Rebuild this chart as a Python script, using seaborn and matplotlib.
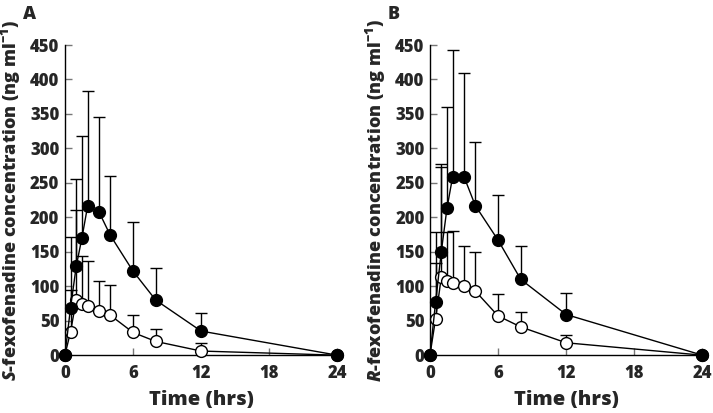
import numpy as np
import pandas as pd
import matplotlib
matplotlib.use('Agg')
import matplotlib.pyplot as plt
import seaborn as sns

time_hrs = [0, 0.5, 1, 1.5, 2, 3, 4, 6, 8, 12, 24]

# panel A, S-fexofenadine (mean and mean + SD)
s_filled = [0, 69, 129, 170, 216, 208, 174, 122, 80, 35, 0]
s_filled_top = [0, 172, 255, 318, 384, 346, 260, 193, 127, 61, 0]
s_open = [0, 34, 80, 74, 72, 64, 58, 33, 20, 6, 0]
s_open_top = [0, 95, 210, 144, 136, 108, 102, 58, 38, 17, 0]

# panel B, R-fexofenadine
r_filled = [0, 77, 150, 213, 259, 259, 217, 167, 110, 59, 0]
r_filled_top = [0, 178, 278, 360, 443, 409, 310, 233, 159, 90, 0]
r_open = [0, 53, 113, 108, 105, 101, 93, 57, 41, 18, 0]
r_open_top = [0, 134, 273, 178, 180, 158, 150, 89, 62, 30, 0]

x_ticks = [0, 6, 12, 18, 24]
y_ticks = list(range(0, 451, 50))

sns.set_style('ticks')
plt.rcParams['font.family'] = ['Open Sans', 'DejaVu Sans']
plt.rcParams['font.weight'] = 800
plt.rcParams['mathtext.fontset'] = 'custom'
plt.rcParams['mathtext.rm'] = 'Open Sans:weight=800'
plt.rcParams['mathtext.it'] = 'Open Sans:italic:weight=800'
plt.rcParams['mathtext.bf'] = 'Open Sans:weight=800'

fig = plt.figure(figsize=(7.13, 4.13), dpi=100)
ax_a = fig.add_axes([0.091, 0.140, 0.382, 0.751])
ax_b = fig.add_axes([0.603, 0.140, 0.382, 0.751])


def draw_panel(ax, filled, filled_top, opened, opened_top, ylabel, letter):
    # open circles first so the filled series sits on top at 0 h and 24 h
    for mean, top, face in [(opened, opened_top, 'white'), (filled, filled_top, 'black')]:
        mean = np.array(mean, dtype=float)
        up = np.array(top, dtype=float) - mean
        ax.errorbar(time_hrs, mean, yerr=[np.zeros_like(up), up], fmt='none',
                    ecolor='black', elinewidth=1, capsize=4, capthick=1,
                    zorder=2, clip_on=False)
        df = pd.DataFrame({'t': time_hrs, 'c': mean})
        sns.lineplot(data=df, x='t', y='c', ax=ax, color='black', lw=1,
                     marker='o', markersize=8.5, markerfacecolor=face,
                     markeredgecolor='black', markeredgewidth=1,
                     zorder=3, clip_on=False)
    ax.set_xlim(0, 24)
    ax.set_ylim(0, 450)
    ax.set_xticks(x_ticks)
    ax.set_yticks(y_ticks)
    ax.tick_params(direction='in', length=5, width=1, labelsize=12,
                   color='#777777')
    ax.tick_params(axis='x', pad=7)
    ax.tick_params(axis='y', pad=4)
    for lab in ax.get_xticklabels() + ax.get_yticklabels():
        lab.set_fontweight(800)
    sns.despine(ax=ax)
    for sp in ['left', 'bottom']:
        ax.spines[sp].set_linewidth(1)
        ax.spines[sp].set_color('black')
    ax.set_xlabel('Time (hrs)', fontsize=14.5, fontweight=800, labelpad=6)
    ax.set_ylabel(ylabel, fontsize=13, fontweight=800, labelpad=5)
    ax.text(-0.155, 1.125, letter, transform=ax.transAxes, fontsize=13,
            fontweight=800, ha='left', va='top')


draw_panel(ax_a, s_filled, s_filled_top, s_open, s_open_top,
           r'$S$-fexofenadine concentration (ng ml$^{-1}$)', 'A')
draw_panel(ax_b, r_filled, r_filled_top, r_open, r_open_top,
           r'$R$-fexofenadine concentration (ng ml$^{-1}$)', 'B')

fig.savefig('out.png', dpi=100)
